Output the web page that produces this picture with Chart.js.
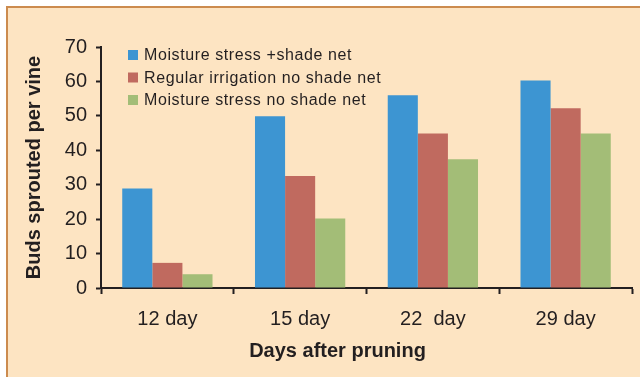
<!DOCTYPE html>
<html>
<head>
<meta charset="utf-8">
<script src="https://cdn.jsdelivr.net/npm/chart.js@4"></script>
<style>
  html, body { margin: 0; padding: 0; background: #ffffff; }
  #wrap { position: relative; width: 640px; height: 377px; overflow: hidden; }
  #panel {
    position: absolute; left: 6px; top: 6px; right: -10px; bottom: -10px;
    background: #fde4c2; border-left: 2px solid #cc8b4e; border-top: 2px solid #cc8b4e;
  }
  canvas { position: absolute; left: 0; top: 0; }
</style>
</head>
<body>
<div id="wrap">
  <div id="panel"></div>
  <canvas id="grafico" width="640" height="377"></canvas>
</div>
<script>
// ---------------- dados ----------------
const dias = ["12 day", "15 day", "22  day", "29 day"];
const stressShade = [28.9, 49.9, 56.0, 60.3];
const regularNoShade = [7.3, 32.5, 44.9, 52.2];
const stressNoShade = [4.0, 20.2, 37.4, 44.9];
const yTicks = [0, 10, 20, 30, 40, 50, 60, 70];

const cores = {
  azul: "#3d95d2",
  vermelho: "#c06a5f",
  verde: "#a3bd77",
  texto: "#231f20",
};

// legenda desenhada dentro da área do gráfico
const legendaInterna = {
  id: "legendaInterna",
  afterDraw(chart) {
    const ctx = chart.ctx;
    const left = chart.chartArea.left + 27;
    let y = chart.chartArea.top + 8;
    ctx.save();
    ctx.font = "16px 'Liberation Sans', Arial, sans-serif";
    ctx.letterSpacing = "0.6px";
    ctx.textBaseline = "middle";
    chart.data.datasets.forEach((ds) => {
      ctx.fillStyle = ds.backgroundColor;
      ctx.fillRect(left, y - 5, 10, 10);
      ctx.fillStyle = cores.texto;
      ctx.fillText(ds.label, left + 16, y + 1);
      y += 22.5;
    });
    ctx.restore();
  },
};

// titulo do eixo x (ligeiramente à esquerda do centro, como no original)
const tituloX = {
  id: "tituloX",
  afterDraw(chart) {
    const ctx = chart.ctx;
    const a = chart.chartArea;
    ctx.save();
    ctx.font = "bold 20px 'Liberation Sans', Arial, sans-serif";
    ctx.fillStyle = cores.texto;
    ctx.textAlign = "center";
    ctx.textBaseline = "middle";
    ctx.fillText("Days after pruning", (a.left + a.right) / 2 - 29, 351);
    ctx.restore();
  },
};

const fonteTicks = { family: "'Liberation Sans', Arial, sans-serif", size: 20 };

new Chart(document.getElementById("grafico").getContext("2d"), {
  type: "bar",
  data: {
    labels: dias,
    datasets: [
      { label: "Moisture stress +shade net", data: stressShade, backgroundColor: cores.azul },
      { label: "Regular irrigation no shade net", data: regularNoShade, backgroundColor: cores.vermelho },
      { label: "Moisture stress no shade net", data: stressNoShade, backgroundColor: cores.verde },
    ],
  },
  options: {
    responsive: false,
    animation: false,
    layout: { padding: { top: 47, right: 8, left: 0, bottom: 0 } },
    datasets: {
      bar: { categoryPercentage: 0.68, barPercentage: 1, borderWidth: 0 },
    },
    scales: {
      x: {
        offset: true,
        grid: {
          offset: true,
          drawOnChartArea: false,
          drawTicks: true,
          tickLength: 6,
          tickWidth: 2,
          tickColor: cores.texto,
        },
        border: { display: true, color: cores.texto, width: 2 },
        ticks: { color: cores.texto, font: fonteTicks, padding: 13, maxRotation: 0 },
        afterFit(scale) { scale.height = 89; },
      },
      y: {
        min: 0,
        max: 70,
        afterBuildTicks(scale) { scale.ticks = yTicks.map((v) => ({ value: v })); },
        grid: {
          drawOnChartArea: false,
          drawTicks: true,
          tickLength: 5,
          tickWidth: 2,
          tickColor: cores.texto,
        },
        border: { display: true, color: cores.texto, width: 2 },
        ticks: { color: cores.texto, font: fonteTicks, padding: 9 },
        title: {
          display: true,
          text: "Buds sprouted per vine",
          color: cores.texto,
          font: { family: "'Liberation Sans', Arial, sans-serif", size: 20, weight: "bold" },
          padding: { top: 22, bottom: 0 },
        },
        afterFit(scale) { scale.width = 101; },
      },
    },
    plugins: {
      legend: { display: false },
      tooltip: { enabled: false },
    },
  },
  plugins: [legendaInterna, tituloX],
});
</script>
</body>
</html>
